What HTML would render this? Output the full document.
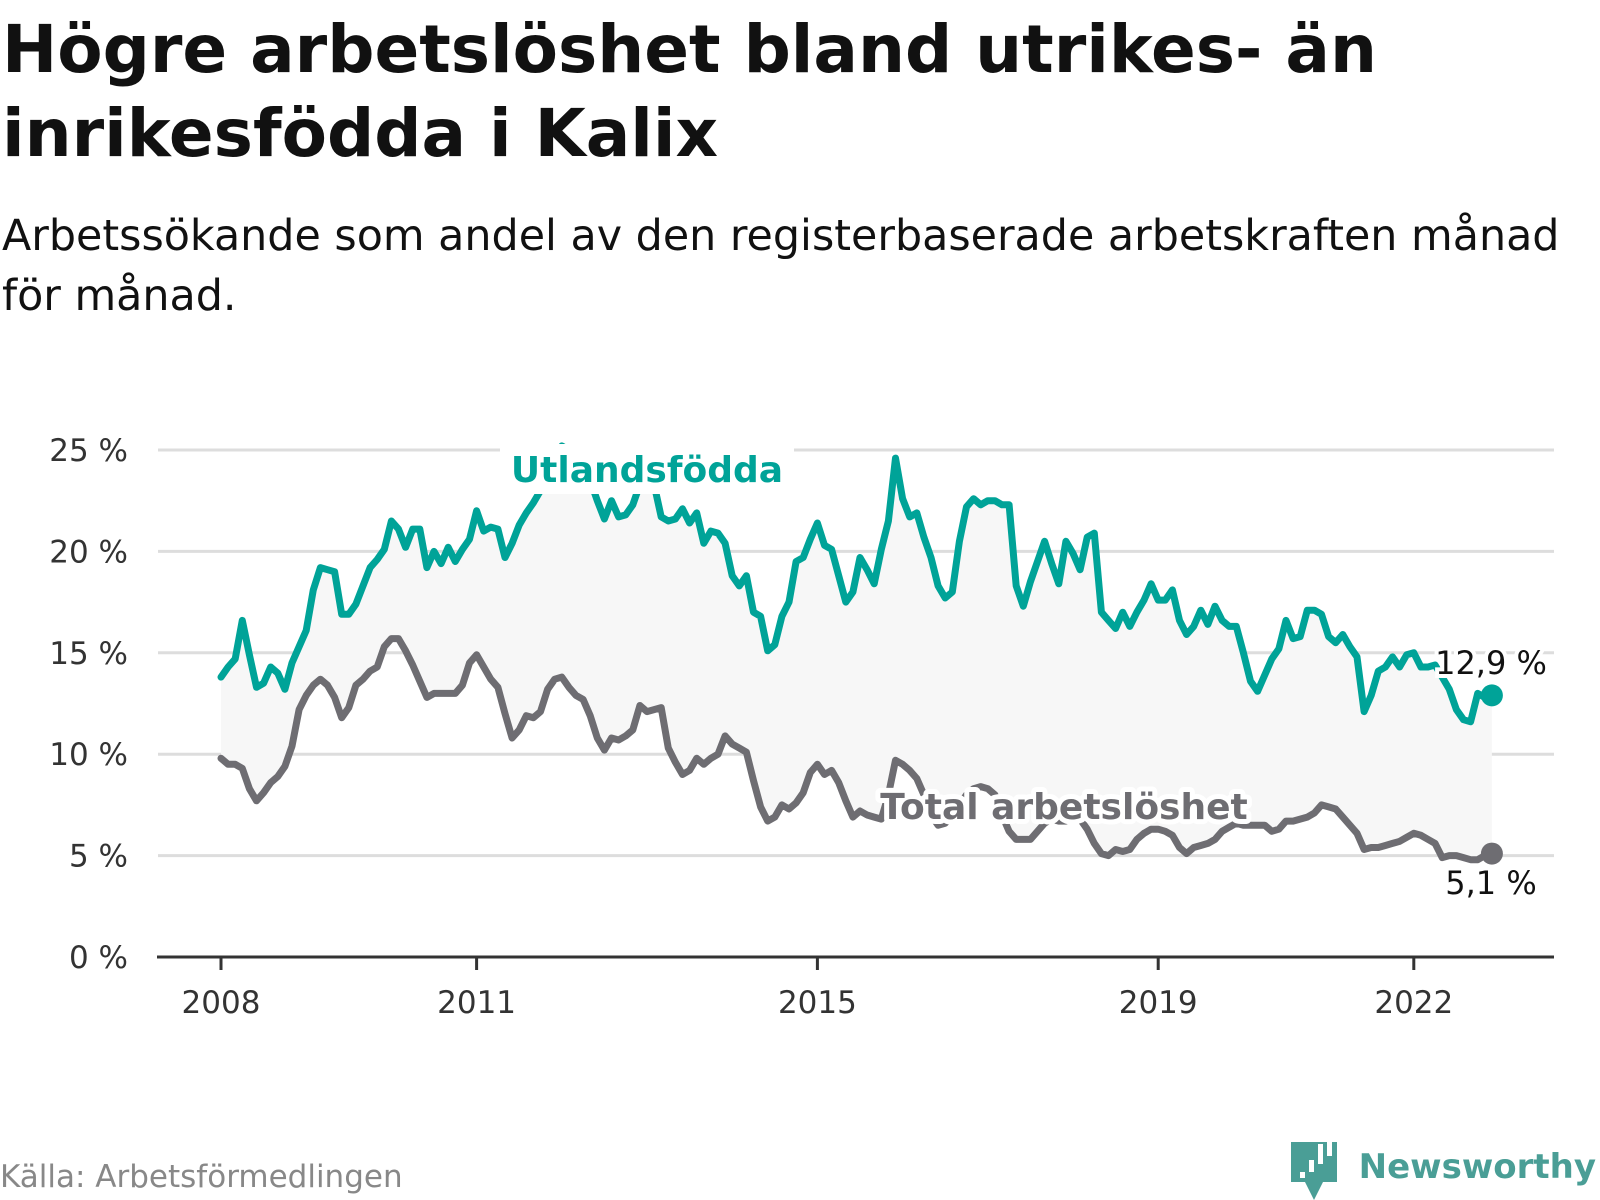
<!DOCTYPE html>
<html><head><meta charset="utf-8">
<style>
html,body{margin:0;padding:0;background:#fff;width:1600px;height:1200px;overflow:hidden;font-family:"DejaVu Sans","Liberation Sans",sans-serif;}
#title{position:absolute;left:2px;top:8px;margin:0;font-size:66px;line-height:84px;font-weight:bold;color:#111;letter-spacing:0px;}
#subtitle{position:absolute;left:2px;top:206px;margin:0;font-size:42.8px;line-height:60px;color:#111;}
svg{position:absolute;left:0;top:0;font-family:"DejaVu Sans","Liberation Sans",sans-serif;}
</style></head><body>
<h1 id="title">Högre arbetslöshet bland utrikes- än<br>inrikesfödda i Kalix</h1>
<p id="subtitle">Arbetssökande som andel av den registerbaserade arbetskraften månad<br>för månad.</p>
<svg id="chart" width="1600" height="1200"></svg>
<script>
const yTicks=[0,5,10,15,20,25];
const yTickLabels=["0 %","5 %","10 %","15 %","20 %","25 %"];
const xTickYears=[2008,2011,2015,2019,2022];
const startYear=2008;
const foreignBorn=[13.8,14.3,14.7,16.6,14.9,13.3,13.5,14.3,14.0,13.2,14.5,15.3,16.1,18.1,19.2,19.1,19.0,16.9,16.9,17.4,18.3,19.2,19.6,20.1,21.5,21.1,20.2,21.1,21.1,19.2,20.0,19.4,20.2,19.5,20.1,20.6,22.0,21.0,21.2,21.1,19.7,20.4,21.3,21.9,22.4,23.0,23.6,24.4,25.2,25.0,24.5,24.0,23.5,22.5,21.6,22.5,21.7,21.8,22.3,23.3,23.8,23.3,21.7,21.5,21.6,22.1,21.4,21.9,20.4,21.0,20.9,20.4,18.8,18.3,18.8,17.0,16.8,15.1,15.4,16.8,17.5,19.5,19.7,20.6,21.4,20.3,20.1,18.8,17.5,18.0,19.7,19.1,18.4,20.1,21.5,24.6,22.6,21.7,21.9,20.7,19.7,18.3,17.7,18.0,20.5,22.2,22.6,22.3,22.5,22.5,22.3,22.3,18.3,17.3,18.5,19.5,20.5,19.4,18.4,20.5,19.9,19.1,20.7,20.9,17.0,16.6,16.2,17.0,16.3,17.0,17.6,18.4,17.6,17.6,18.1,16.6,15.9,16.3,17.1,16.4,17.3,16.6,16.3,16.3,15.0,13.6,13.1,13.9,14.7,15.2,16.6,15.7,15.8,17.1,17.1,16.9,15.8,15.5,15.9,15.3,14.8,12.1,12.9,14.1,14.3,14.8,14.3,14.9,15.0,14.3,14.3,14.4,13.8,13.2,12.2,11.7,11.6,13.0,12.8,12.9];
const total=[9.8,9.5,9.5,9.3,8.3,7.7,8.1,8.6,8.9,9.4,10.4,12.2,12.9,13.4,13.7,13.4,12.8,11.8,12.3,13.4,13.7,14.1,14.3,15.3,15.7,15.7,15.1,14.4,13.6,12.8,13.0,13.0,13.0,13.0,13.4,14.5,14.9,14.3,13.7,13.3,12.0,10.8,11.2,11.9,11.8,12.1,13.2,13.7,13.8,13.3,12.9,12.7,11.9,10.8,10.2,10.8,10.7,10.9,11.2,12.4,12.1,12.2,12.3,10.3,9.6,9.0,9.2,9.8,9.5,9.8,10.0,10.9,10.5,10.3,10.1,8.7,7.4,6.7,6.9,7.5,7.3,7.6,8.1,9.1,9.5,9.0,9.2,8.6,7.7,6.9,7.2,7.0,6.9,6.8,8.0,9.7,9.5,9.2,8.8,8.0,7.0,6.5,6.6,7.0,7.5,8.0,8.3,8.4,8.3,8.0,7.0,6.2,5.8,5.8,5.8,6.2,6.6,6.8,6.7,6.7,7.0,6.8,6.3,5.6,5.1,5.0,5.3,5.2,5.3,5.8,6.1,6.3,6.3,6.2,6.0,5.4,5.1,5.4,5.5,5.6,5.8,6.2,6.4,6.6,6.5,6.5,6.5,6.5,6.2,6.3,6.7,6.7,6.8,6.9,7.1,7.5,7.4,7.3,6.9,6.5,6.1,5.3,5.4,5.4,5.5,5.6,5.7,5.9,6.1,6.0,5.8,5.6,4.9,5.0,5.0,4.9,4.8,4.8,5.0,5.1];

const NS="http://www.w3.org/2000/svg";
const svg=document.getElementById('chart');
const X0=221, YEARW=85.2, Y0=957, PXPCT=20.28;
function xm(m){return X0+m*YEARW/12;}
function xy(yr){return X0+(yr-startYear)*YEARW;}
function yv(v){return Y0-v*PXPCT;}
function mk(tag,attrs){const e=document.createElementNS(NS,tag);for(const k in attrs)e.setAttribute(k,attrs[k]);svg.appendChild(e);return e;}

yTicks.forEach((t,i)=>{
  if(t>0){const g=mk('line',{x1:158,x2:1554,y1:yv(t),y2:yv(t),stroke:'#dddddd','stroke-width':3});
  
  }
  const l=mk('text',{x:128,y:yv(t)+11,'text-anchor':'end','font-size':31,fill:'#333'});
  l.textContent=yTickLabels[i];
  
  
});
let d='M'+foreignBorn.map((v,i)=>xm(i)+','+yv(v)).join('L');
for(let i=total.length-1;i>=0;i--)d+='L'+xm(i)+','+yv(total[i]);
const area=mk('path',{d:d+'Z',fill:'#f7f7f7'});


const ax=mk('line',{x1:157,x2:1554,y1:Y0,y2:Y0,stroke:'#333','stroke-width':3});


xTickYears.forEach(yr=>{
  const t=mk('line',{x1:xy(yr),x2:xy(yr),y1:Y0,y2:Y0+13,stroke:'#333','stroke-width':3});
  
  
  const l=mk('text',{x:xy(yr),y:Y0+56,'text-anchor':'middle','font-size':31,fill:'#333'});
  l.textContent=yr;
  
  
});
function line(arr,color,name){
  const p=mk('path',{d:'M'+arr.map((v,i)=>xm(i).toFixed(1)+','+yv(v).toFixed(1)).join('L'),fill:'none',stroke:color,'stroke-width':7,'stroke-linejoin':'round','stroke-linecap':'round'});
  
  
}
line(total,'#6e6d72','total-line');
line(foreignBorn,'#00a398','foreign-born-line');
const ul=mk('rect',{x:500,y:444,width:294,height:50,fill:'#fff'});


const u=mk('text',{x:647,y:482,'text-anchor':'middle','font-size':36,'font-weight':'bold',fill:'#00a398'});
u.textContent='Utlandsfödda';


const tl=mk('text',{x:1064,y:819,'text-anchor':'middle','font-size':36,'font-weight':'bold',fill:'#6e6d72',stroke:'#fff','stroke-width':10,'stroke-linejoin':'round','paint-order':'stroke'});
tl.textContent='Total arbetslöshet';


const last=foreignBorn.length-1;
const d1=mk('circle',{cx:xm(last),cy:yv(foreignBorn[last]),r:11,fill:'#00a398'});


const d2=mk('circle',{cx:xm(last),cy:yv(total[last]),r:11,fill:'#6e6d72'});


const e1=mk('text',{x:1491,y:674,'text-anchor':'middle','font-size':32,fill:'#111',stroke:'#fff','stroke-width':8,'paint-order':'stroke'});
e1.textContent=String(foreignBorn[last]).replace('.',',')+' %';


const e2=mk('text',{x:1491,y:894,'text-anchor':'middle','font-size':32,fill:'#111',stroke:'#fff','stroke-width':8,'paint-order':'stroke'});
e2.textContent=String(total[last]).replace('.',',')+' %';


const src=mk('text',{x:0,y:1187,'font-size':31,fill:'#888'});
src.textContent='Källa: Arbetsförmedlingen';


const logo=mk('path',{d:'M1291,1142 h46 v40 h-14 l-9,18 l-9,-18 h-14 z',fill:'#4a9e96'});


[[1300,1170,6],[1309,1164,12],[1318,1156,20],[1327,1148,28]].forEach(b=>{
  const r=mk('rect',{x:b[0],y:b[1]-b[2]+8,width:5,height:b[2],fill:'#fff'});
  
  
});
const lt=mk('text',{x:1596,y:1178,'text-anchor':'end','font-size':34,'font-weight':'bold',fill:'#4a9e96'});
lt.textContent='Newsworthy';


</script>
</body></html>
